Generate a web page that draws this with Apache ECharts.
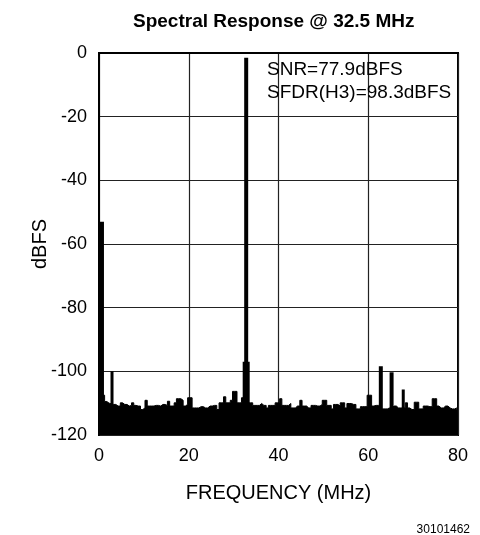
<!DOCTYPE html>
<html>
<head>
<meta charset="utf-8">
<script src="https://cdn.jsdelivr.net/npm/echarts@6/dist/echarts.min.js"></script>
<style>html,body{margin:0;padding:0;background:#fff;}#c{width:480px;height:535px;}</style>
</head>
<body>
<div id="c"></div>
<script>
// Noise floor, sampled every 0.5 MHz from 0 to 80 MHz (dBFS)
const floorStartMHz = 0;
const floorStepMHz = 0.5;
const floorLevels = [
 -104,-105,-107.5,-109.5,-110,-110.2,-110.4,-110.4,-110.9,-110.9,
 -109.9,-110.4,-110.4,-110.9,-110.7,-109.9,-110.7,-110.9,-110.9,-112,
 -111.5,-109.1,-110.9,-110.9,-110.9,-110.7,-110.7,-110.9,-110.4,-110.4,
 -110.7,-109.4,-110.9,-110.9,-109.9,-108.6,-108.6,-109.1,-110.9,-110.4,
 -108.3,-108.3,-111.5,-111.5,-111.5,-111.1,-111.1,-111.5,-111.5,-110.9,
 -110.9,-110.7,-110.7,-112,-109.9,-109.9,-108,-109.9,-109.9,-109.1,
 -106.3,-106.3,-109.9,-109.9,-108.3,-104,-104,-109.9,-109.9,-110.7,
 -110.7,-110.7,-110.1,-110.7,-110.7,-111.5,-110.7,-110.7,-110.7,-109.9,
 -109.9,-108.6,-110.7,-110.7,-110.7,-110.1,-111.5,-111.5,-110.9,-110.9,
 -109.1,-110.9,-110.9,-111.5,-111.5,-110.7,-110.7,-110.9,-110.9,-110.4,
 -109.1,-109.1,-110.7,-110.7,-111.8,-110.4,-110.4,-110.9,-109.9,-109.9,
 -111.5,-110.1,-110.1,-110.4,-110.4,-111.8,-111.8,-111.1,-111.1,-111.1,
 -107.5,-107.5,-110.9,-110.7,-110.7,-110.7,-111.8,-111.8,-111.8,-111.5,
 -111.5,-110.9,-110.9,-111.5,-111.5,-111.5,-111.5,-109.9,-111.5,-112,
 -112,-109.7,-109.7,-111.8,-111.8,-110.9,-110.9,-111.1,-111.1,-108.6,
 -108.6,-110.9,-111.5,-111.5,-110.9,-110.9,-111.5,-111.8,-111.8,-111.5,
 -111.5
];

// Discrete spurs / tones
const spurFreqs  = [0.55, 2.9, 32.8, 32.8, 62.8, 65.2, 67.8];
const spurLevels = [-53, -100, -97, -1.5, -98.4, -100.3, -105.7];
const spurWidths = [5, 3, 7, 4, 4, 4, 3];   // line widths (px), style only

const xTicks = [0, 20, 40, 60, 80];
const yTicks = [-120, -100, -80, -60, -40, -20, 0];
const titleText = 'Spectral Response @ 32.5 MHz';
const notes = ['SNR=77.9dBFS', 'SFDR(H3)=98.3dBFS'];
const xName = 'FREQUENCY (MHz)';
const yName = 'dBFS';
const figId = '30101462';

const floorData = floorLevels.map((v, i) => [floorStartMHz + i * floorStepMHz, v]);
const yMin = yTicks[0];

const series = [{
  type: 'line',
  step: 'middle',
  data: floorData,
  symbol: 'none',
  lineStyle: { color: '#000', width: 1 },
  areaStyle: { color: '#000', opacity: 1, origin: 'start' },
  z: 3,
  animation: false
}];
spurFreqs.forEach((f, i) => {
  series.push({
    type: 'line',
    data: [[f, yMin], [f, spurLevels[i]]],
    symbol: 'none',
    lineStyle: { color: '#000', width: spurWidths[i], cap: 'butt' },
    z: 4,
    animation: false
  });
});

const chart = echarts.init(document.getElementById('c'), null, { renderer: 'canvas' });
const font = 'Liberation Sans, Arial, Helvetica, sans-serif';
chart.setOption({
  animation: false,
  backgroundColor: '#fff',
  textStyle: { fontFamily: font },
  title: {
    text: titleText,
    left: 128, top: 7,
    textStyle: { fontSize: 19, fontWeight: 'bold', color: '#000', fontFamily: font }
  },
  grid: { left: 99, right: 22, top: 53, bottom: 100, show: true, borderColor: '#000', borderWidth: 2, backgroundColor: 'transparent' },
  xAxis: {
    type: 'value', min: xTicks[0], max: xTicks[xTicks.length - 1], interval: 20,
    name: xName, nameLocation: 'middle', nameGap: 48,
    nameTextStyle: { fontSize: 20, color: '#000', fontFamily: font },
    axisLine: { show: true, lineStyle: { color: '#000', width: 2 } },
    axisTick: { show: false },
    axisLabel: { fontSize: 18, color: '#000', margin: 12, fontFamily: font },
    splitLine: { show: true, lineStyle: { color: '#222', width: 1.2 } }
  },
  yAxis: {
    type: 'value', min: yMin, max: yTicks[yTicks.length - 1], interval: 20,
    axisLine: { show: true, lineStyle: { color: '#000', width: 2 } },
    axisTick: { show: false },
    axisLabel: { fontSize: 18, color: '#000', margin: 12, fontFamily: font },
    splitLine: { show: true, lineStyle: { color: '#222', width: 1.2 } }
  },
  graphic: [
    { type: 'text', x: 40, y: 244, rotation: Math.PI / 2, z: 10,
      style: { text: yName, fill: '#000', font: '20px ' + font, align: 'center', verticalAlign: 'middle' } },
    { type: 'text', left: 267, top: 60, z: 10, style: { text: notes[0], fill: '#000', font: '19px ' + font } },
    { type: 'text', left: 267, top: 83, z: 10, style: { text: notes[1], fill: '#000', font: '19px ' + font } },
    { type: 'text', right: 10, top: 524, z: 10, style: { text: figId, fill: '#000', font: '12px ' + font } }
  ],
  series: series
});
</script>
</body>
</html>
